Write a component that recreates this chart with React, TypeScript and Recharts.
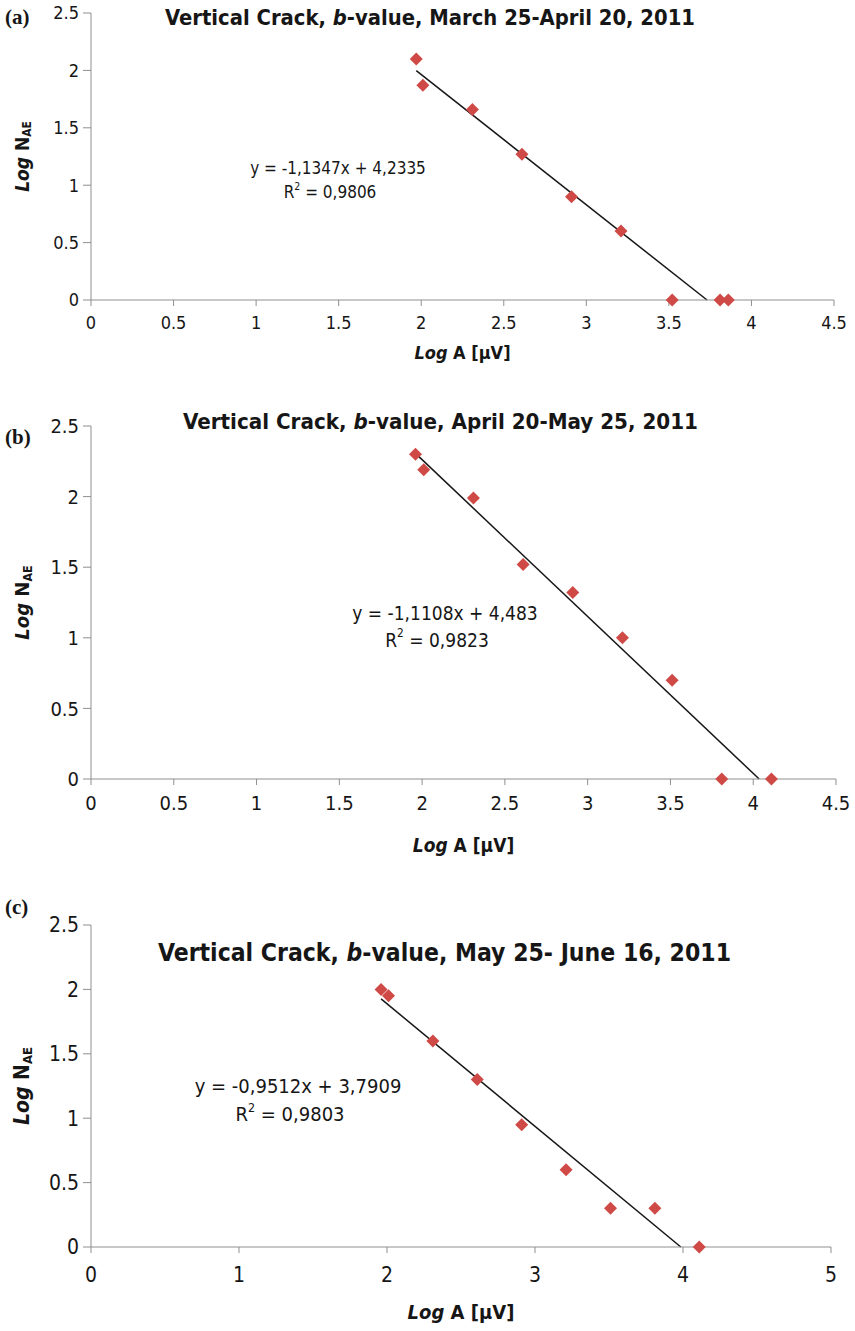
import { ScatterChart, Scatter, XAxis, YAxis, ReferenceLine, Label } from "recharts";

/* ─── amplitude distribution, three monitoring windows ─── */
const logAmpA = [1.97, 2.01, 2.31, 2.61, 2.91, 3.21, 3.52, 3.81, 3.86];
const logHitsA = [2.1, 1.87, 1.66, 1.27, 0.9, 0.6, 0, 0, 0];
const fitA = { slope: -1.1347, intercept: 4.2335, r2: 0.9806 };

const logAmpB = [1.96, 2.01, 2.31, 2.61, 2.91, 3.21, 3.51, 3.81, 4.11];
const logHitsB = [2.3, 2.19, 1.99, 1.52, 1.32, 1.0, 0.7, 0, 0];
const fitB = { slope: -1.1108, intercept: 4.483, r2: 0.9823 };

const logAmpC = [1.96, 2.01, 2.31, 2.61, 2.91, 3.21, 3.51, 3.81, 4.11];
const logHitsC = [2.0, 1.95, 1.6, 1.3, 0.95, 0.6, 0.3, 0.3, 0];
const fitC = { slope: -0.9512, intercept: 3.7909, r2: 0.9803 };

const yTicks = [0, 0.5, 1, 1.5, 2, 2.5];
const xTicksHalf = [0, 0.5, 1, 1.5, 2, 2.5, 3, 3.5, 4, 4.5];
const xTicksUnit = [0, 1, 2, 3, 4, 5];

const FONT = "'DejaVu Sans Condensed', 'Liberation Sans', sans-serif";
const INK = "#161616";
const AXIS = "#8f8f8f";
const RED = "#cf4a46";

const dec = (n: number) => String(n).replace(".", ",");

function Diamond(p: any) {
  const r = 6.5;
  return (
    <polygon
      points={`${p.cx},${p.cy - r} ${p.cx + r},${p.cy} ${p.cx},${p.cy + r} ${p.cx - r},${p.cy}`}
      fill={RED}
    />
  );
}

interface PanelProps {
  top: number;
  height: number;
  plotTop: number;
  plotBottom: number;
  plotRight: number;
  xMax: number;
  xTicks: number[];
  xs: number[];
  ys: number[];
  fit: { slope: number; intercept: number };
  tickFont: number;
  tickGap: number;
  titleFont: number;
  xTitleY: number;
}

function Panel({ top, height, plotTop, plotBottom, plotRight, xMax, xTicks, xs, ys, fit, tickFont, tickGap, titleFont, xTitleY }: PanelProps) {
  const pts = xs.map((x, i) => ({ x, y: ys[i] }));
  const x0 = Math.min(...xs);
  const xZero = -fit.intercept / fit.slope;
  const yAxisW = 50;
  const plotLeft = 91;
  const xAxisH = height - plotBottom + top;
  const tickStyle = { fill: INK, fontSize: tickFont, fontFamily: FONT };

  return (
    <div style={{ position: "absolute", left: 0, top }}>
      <ScatterChart
        width={855}
        height={height}
        margin={{ top: plotTop - top, right: 855 - plotRight, left: plotLeft - yAxisW, bottom: 0 }}
      >
        <XAxis
          type="number"
          dataKey="x"
          domain={[0, xMax]}
          ticks={xTicks}
          height={xAxisH}
          stroke={AXIS}
          tickSize={6}
          tickMargin={tickGap}
          tick={tickStyle}
        >
          <Label
            content={(p: any) => {
              const vb = p.viewBox;
              return (
                <text x={vb.x + vb.width / 2} y={xTitleY - top} textAnchor="middle" dominantBaseline="central"
                  fontSize={titleFont} fontWeight="bold" fontFamily={FONT} fill={INK}>
                  <tspan fontStyle="italic">Log</tspan>
                  <tspan> A [μV]</tspan>
                </text>
              );
            }}
          />
        </XAxis>
        <YAxis
          type="number"
          dataKey="y"
          domain={[0, 2.5]}
          ticks={yTicks}
          width={yAxisW}
          stroke={AXIS}
          tickSize={8}
          tickMargin={4}
          tick={tickStyle}
        >
          <Label
            content={(p: any) => {
              const vb = p.viewBox;
              const cx = 22;
              const cy = vb.y + vb.height / 2;
              return (
                <text x={cx} y={cy} transform={`rotate(-90 ${cx} ${cy})`} textAnchor="middle"
                  dominantBaseline="central" fontSize={titleFont + 1} fontWeight="bold" fontFamily={FONT} fill={INK}>
                  <tspan fontStyle="italic">Log</tspan>
                  <tspan> N</tspan>
                  <tspan fontSize={(titleFont + 1) * 0.62} dy={titleFont * 0.25}>AE</tspan>
                </text>
              );
            }}
          />
        </YAxis>
        <Scatter data={pts} shape={Diamond} isAnimationActive={false} />
        <ReferenceLine
          segment={[
            { x: x0, y: fit.slope * x0 + fit.intercept },
            { x: xZero, y: 0 },
          ]}
          stroke={INK}
          strokeWidth={1.5}
          ifOverflow="visible"
        />
      </ScatterChart>
    </div>
  );
}

function Title({ x, y, w, size, period }: { x: number; y: number; w: number; size: number; period: string }) {
  return (
    <text x={x} y={y} textLength={w} lengthAdjust="spacingAndGlyphs" fontSize={size} fontWeight="bold"
      fontFamily={FONT} fill={INK} dominantBaseline="central">
      Vertical Crack, <tspan fontStyle="italic">b</tspan>-value, {period}
    </text>
  );
}

function Equation({ x, y, size, fit }: { x: number; y: number; size: number; fit: { slope: number; intercept: number; r2: number } }) {
  return (
    <g fontSize={size} fontFamily={FONT} fill={INK} textAnchor="middle">
      <text x={x} y={y} dominantBaseline="central">
        y = {dec(fit.slope)}x + {dec(fit.intercept)}
      </text>
      <text x={x - 8} y={y + size * 1.4} dominantBaseline="central">
        R<tspan fontSize={size * 0.62} dy={-size * 0.35}>2</tspan>
        <tspan dy={size * 0.35}> = {dec(fit.r2)}</tspan>
      </text>
    </g>
  );
}

export default function App() {
  return (
    <div style={{ position: "absolute", left: 0, top: 0, width: 855, height: 1331, background: "#fff" }}>
      <Panel top={0} height={370} plotTop={13} plotBottom={300} plotRight={834} xMax={4.5}
        xTicks={xTicksHalf} xs={logAmpA} ys={logHitsA} fit={fitA}
        tickFont={18} tickGap={10} titleFont={18} xTitleY={352} />
      <Panel top={413} height={457} plotTop={426} plotBottom={779} plotRight={836} xMax={4.5}
        xTicks={xTicksHalf} xs={logAmpB} ys={logHitsB} fit={fitB}
        tickFont={20} tickGap={11} titleFont={19} xTitleY={845} />
      <Panel top={912} height={419} plotTop={925} plotBottom={1247} plotRight={831} xMax={5}
        xTicks={xTicksUnit} xs={logAmpC} ys={logHitsC} fit={fitC}
        tickFont={21} tickGap={14} titleFont={20} xTitleY={1312} />

      <svg width={855} height={1331} style={{ position: "absolute", left: 0, top: 0, pointerEvents: "none" }}>
        <g fontFamily="'Liberation Serif', 'DejaVu Serif', serif" fontWeight="bold" fontSize={21} fill={INK}>
          <text x={5} y={24}>(a)</text>
          <text x={5} y={444}>(b)</text>
          <text x={5} y={914}>(c)</text>
        </g>
        <Title x={165} y={18} w={530} size={21} period="March 25-April 20, 2011" />
        <Title x={183} y={422} w={515} size={21} period="April 20-May 25, 2011" />
        <Title x={158} y={953} w={573} size={24} period="May 25- June 16, 2011" />
        <Equation x={338} y={168} size={17} fit={fitA} />
        <Equation x={445} y={613} size={19} fit={fitB} />
        <Equation x={298} y={1086} size={20} fit={fitC} />
      </svg>
    </div>
  );
}
